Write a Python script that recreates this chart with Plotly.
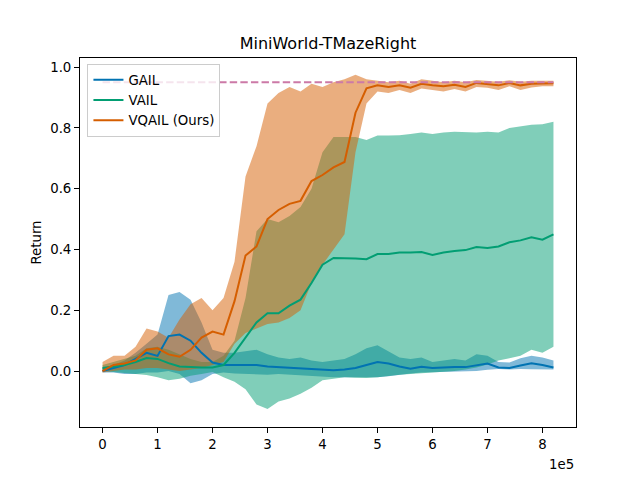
import plotly.graph_objects as go

# training steps, in units of 1e5
steps = [0.0, 0.2, 0.4, 0.6, 0.8, 1.0, 1.2, 1.4, 1.6, 1.8, 2.0, 2.2, 2.4, 2.6,
         2.8, 3.0, 3.2, 3.4, 3.6, 3.8, 4.0, 4.2, 4.4, 4.6, 4.8, 5.0, 5.2, 5.4,
         5.6, 5.8, 6.0, 6.2, 6.4, 6.6, 6.8, 7.0, 7.2, 7.4, 7.6, 7.8, 8.0, 8.2]

gail_mean = [0.0, 0.01, 0.02, 0.04, 0.06, 0.05, 0.115, 0.12, 0.10, 0.06, 0.028, 0.02,
             0.02, 0.02, 0.02, 0.015, 0.013, 0.01, 0.008, 0.005, 0.003, 0.003, 0.005, 0.01,
             0.02, 0.03, 0.025, 0.015, 0.008, 0.014, 0.01, 0.012, 0.013, 0.013, 0.02, 0.025,
             0.012, 0.01, 0.018, 0.026, 0.02, 0.012]
gail_upper = [0.01, 0.02, 0.035, 0.06, 0.09, 0.12, 0.25, 0.26, 0.235, 0.16, 0.07, 0.06,
              0.06, 0.065, 0.07, 0.055, 0.045, 0.04, 0.045, 0.035, 0.03, 0.035, 0.04, 0.055,
              0.075, 0.085, 0.065, 0.045, 0.04, 0.045, 0.03, 0.035, 0.04, 0.035, 0.055, 0.05,
              0.03, 0.028, 0.042, 0.05, 0.045, 0.035]
gail_lower = [-0.005, -0.005, -0.01, -0.01, -0.005, -0.005, 0.0, -0.01, -0.04, -0.03, -0.01, -0.005,
              -0.008, -0.01, -0.01, -0.012, -0.01, -0.012, -0.015, -0.015, -0.018, -0.02, -0.02, -0.02,
              -0.02, -0.02, -0.017, -0.012, -0.008, -0.005, -0.004, -0.003, -0.003, -0.002, 0.0, 0.004,
              0.007, 0.005, 0.007, 0.006, 0.006, 0.005]

vail_mean = [0.01, 0.015, 0.02, 0.03, 0.043, 0.04, 0.026, 0.015, 0.013, 0.012, 0.012, 0.02,
             0.06, 0.11, 0.16, 0.19, 0.19, 0.215, 0.235, 0.29, 0.35, 0.372, 0.372, 0.37,
             0.368, 0.385, 0.385, 0.39, 0.39, 0.392, 0.382, 0.39, 0.395, 0.398, 0.408, 0.405,
             0.41, 0.424, 0.43, 0.44, 0.432, 0.45]
vail_upper = [0.02, 0.03, 0.04, 0.05, 0.075, 0.08, 0.07, 0.055, 0.04, 0.03, 0.03, 0.05,
              0.10, 0.24, 0.46, 0.50, 0.49, 0.51, 0.54, 0.60, 0.72, 0.77, 0.77, 0.77,
              0.76, 0.775, 0.775, 0.776, 0.78, 0.785, 0.78, 0.785, 0.787, 0.785, 0.785, 0.787,
              0.785, 0.80, 0.805, 0.81, 0.812, 0.82]
vail_lower = [0.0, -0.003, -0.005, -0.01, -0.013, -0.02, -0.03, -0.025, -0.015, -0.01, -0.003, -0.02,
              -0.035, -0.06, -0.11, -0.125, -0.10, -0.09, -0.075, -0.055, -0.03, -0.025, -0.02, -0.022,
              -0.023, -0.02, -0.015, -0.012, -0.01, -0.008, -0.006, -0.004, 0.0, 0.005, 0.012, 0.022,
              0.035, 0.042, 0.05, 0.07, 0.06, 0.08]

vqail_mean = [0.0, 0.02, 0.025, 0.035, 0.07, 0.075, 0.055, 0.047, 0.07, 0.11, 0.13, 0.12,
              0.23, 0.38, 0.41, 0.50, 0.53, 0.55, 0.56, 0.625, 0.645, 0.67, 0.688, 0.85,
              0.93, 0.94, 0.935, 0.94, 0.932, 0.945, 0.94, 0.937, 0.942, 0.935, 0.948, 0.945,
              0.94, 0.948, 0.94, 0.945, 0.947, 0.947]
vqail_upper = [0.03, 0.05, 0.05, 0.08, 0.14, 0.13, 0.11, 0.17, 0.22, 0.24, 0.20, 0.24,
               0.36, 0.64, 0.74, 0.88, 0.915, 0.935, 0.92, 0.945, 0.935, 0.95, 0.96, 0.975,
               0.96, 0.955, 0.95, 0.955, 0.945, 0.96, 0.955, 0.95, 0.955, 0.95, 0.958, 0.955,
               0.952, 0.957, 0.952, 0.955, 0.956, 0.955]
vqail_lower = [-0.005, 0.0, 0.005, 0.005, 0.01, 0.01, 0.005, 0.0, 0.005, 0.01, 0.02, 0.03,
               0.09, 0.125, 0.14, 0.155, 0.16, 0.175, 0.2, 0.29, 0.35, 0.40, 0.45, 0.72,
               0.88, 0.92, 0.915, 0.925, 0.915, 0.93, 0.925, 0.92, 0.928, 0.92, 0.935, 0.932,
               0.925, 0.937, 0.925, 0.933, 0.937, 0.937]

expert_return = 0.95

series = [
    ("GAIL", gail_mean, gail_lower, gail_upper, "#0173B2", "rgba(1,115,178,0.5)"),
    ("VAIL", vail_mean, vail_lower, vail_upper, "#029E73", "rgba(2,158,115,0.5)"),
    ("VQAIL (Ours)", vqail_mean, vqail_lower, vqail_upper, "#D55E00", "rgba(213,94,0,0.5)"),
]

fig = go.Figure()
# shaded bands first, mean curves on top
for name, mean, lo, hi, color, fill in series:
    fig.add_trace(go.Scatter(x=steps, y=lo, mode="lines", line=dict(width=0),
                             hoverinfo="skip", showlegend=False))
    fig.add_trace(go.Scatter(x=steps, y=hi, mode="lines", line=dict(width=0),
                             fill="tonexty", fillcolor=fill,
                             hoverinfo="skip", showlegend=False))
for name, mean, lo, hi, color, fill in series:
    fig.add_trace(go.Scatter(x=steps, y=mean, mode="lines", name=name,
                             line=dict(color=color, width=2)))

fig.add_trace(go.Scatter(x=[steps[0], steps[-1]], y=[expert_return, expert_return],
                         mode="lines", showlegend=False,
                         line=dict(color="#CC79A7", width=2, dash="7.4px,3.2px")))

axis_style = dict(showline=True, mirror=True, linecolor="black", linewidth=1,
                  ticks="outside", ticklen=5, tickwidth=1, tickcolor="black",
                  showgrid=False, zeroline=False,
                  tickfont=dict(size=13.3, color="black"))

fig.update_xaxes(range=[-0.41, 8.61], tickvals=[0, 1, 2, 3, 4, 5, 6, 7, 8],
                 ticktext=["0", "1", "2", "3", "4", "5", "6", "7", "8"], **axis_style)
fig.update_yaxes(range=[-0.184, 1.03], tickvals=[0, 0.2, 0.4, 0.6, 0.8, 1.0],
                 ticktext=["0.0", "0.2", "0.4", "0.6", "0.8", "1.0"],
                 title=dict(text="Return", font=dict(size=13.3, color="black"), standoff=5),
                 **axis_style)

fig.add_annotation(text="1e5", xref="paper", yref="paper", x=1.0, y=-0.075,
                   xanchor="right", yanchor="top", showarrow=False,
                   font=dict(size=13.3, color="black"))

fig.update_layout(
    width=640, height=480,
    margin=dict(l=80, r=64, t=58, b=53),
    paper_bgcolor="white", plot_bgcolor="white",
    font=dict(family="DejaVu Sans", color="black"),
    title=dict(text="MiniWorld-TMazeRight", x=0.5, xref="paper", y=0.91,
               yanchor="middle", font=dict(size=16, color="black")),
    legend=dict(x=0.015, y=0.985, xanchor="left", yanchor="top", traceorder="normal",
                bgcolor="rgba(255,255,255,0.8)", bordercolor="#cccccc", borderwidth=1,
                font=dict(size=13.3, color="black"), itemwidth=30),
)

# drop the page's default body margin so the figure sits at the window's corner
fig.write_html("out.html", config={"displayModeBar": False},
               post_script="document.body.style.margin='0';")
